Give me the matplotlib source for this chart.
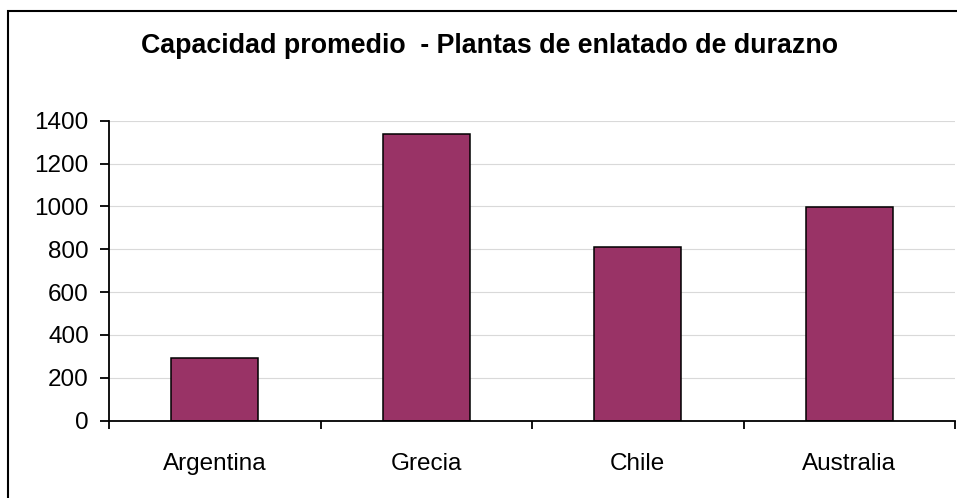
import matplotlib.pyplot as plt
from matplotlib.patches import Rectangle

plt.rcParams['font.family'] = ['Liberation Sans', 'DejaVu Sans']

# datos
paises = ['Argentina', 'Grecia', 'Chile', 'Australia']
capacidad = [291, 1336, 812, 999]
yticks = [0, 200, 400, 600, 800, 1000, 1200, 1400]
titulo = 'Capacidad promedio  - Plantas de enlatado de durazno'

fig = plt.figure(figsize=(9.57, 4.98), dpi=100)
ax = fig.add_axes([109 / 957, 1 - 420.7 / 498, 846 / 957, 300 / 498])

x = range(len(paises))
ax.bar(x, capacidad, width=0.41, color='#993366', edgecolor='black',
       linewidth=1.1, zorder=3)

ax.set_xlim(-0.5, len(paises) - 0.5)
ax.set_ylim(0, 1400)
ax.set_yticks(yticks)
ax.set_yticklabels([str(v) for v in yticks])
ax.yaxis.grid(True, color='#d9d9d9', linewidth=0.8, zorder=0)

# ticks del eje x en los limites de categoria, etiquetas al centro
ax.set_xticks(list(x))
ax.set_xticklabels(paises)
ax.set_xticks([i - 0.5 for i in range(len(paises) + 1)], minor=True)
ax.tick_params(axis='x', which='major', length=0, pad=23, labelsize=17.5)
ax.tick_params(axis='x', which='minor', length=6, width=1.3, direction='out')
ax.tick_params(axis='y', length=6.5, width=1.3, pad=8, labelsize=17.5)

for s in ['top', 'right']:
    ax.spines[s].set_visible(False)
for s in ['left', 'bottom']:
    ax.spines[s].set_linewidth(1.3)
    ax.spines[s].set_zorder(4)

fig.text(489.5 / 957, 1 - 53 / 498, titulo, ha='center', va='baseline',
         fontsize=19.3, fontweight='bold')

# marco exterior del area del grafico
fig.patches.append(Rectangle((8 / 957, -0.2), 2, 1.2 - 11 / 498,
                             transform=fig.transFigure, fill=False,
                             edgecolor='black', linewidth=1.5))

fig.savefig('out.png', dpi=100)
